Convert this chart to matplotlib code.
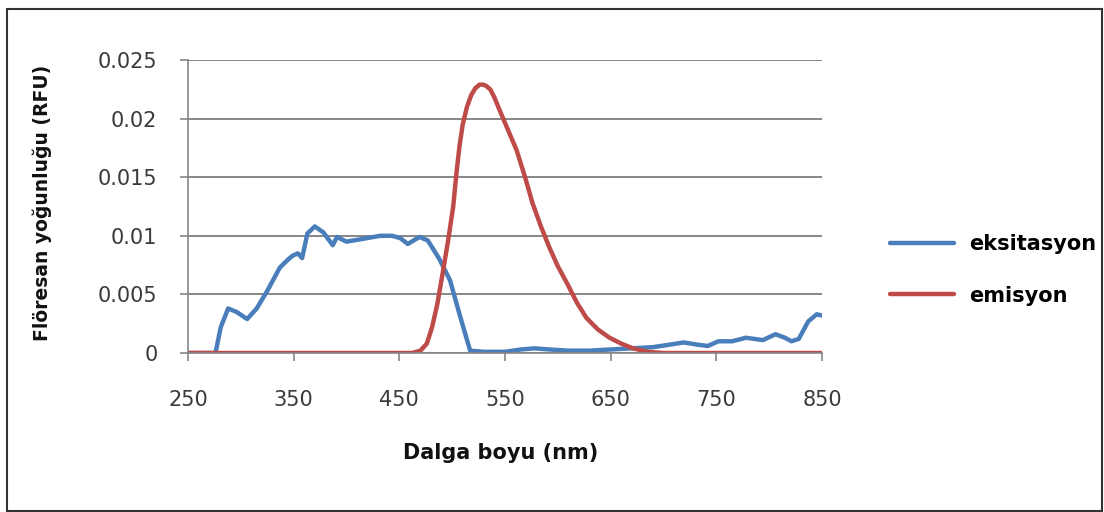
from matplotlib import pyplot
from matplotlib.patches import Rectangle

# wavelength (nm) / intensity (RFU)
exc_nm = [250, 276, 281, 288, 296, 306, 315, 325, 337, 345,
          349, 354, 358, 363, 370, 378, 387, 391, 400, 413,
          432, 443, 451, 458, 469, 477, 488, 498, 507, 517,
          530, 550, 565, 578, 592, 610, 630, 650, 670, 690,
          705, 719, 733, 742, 752, 765, 778, 794, 806, 815,
          821, 828, 837, 845, 850]
exc_val = [0, 0, 0.0022, 0.0038, 0.0035, 0.0029, 0.0038, 0.0053, 0.0073, 0.0080,
           0.0083, 0.0085, 0.0081, 0.0102, 0.0108, 0.0103, 0.0092, 0.0099, 0.0095, 0.0097,
           0.0100, 0.0100, 0.0098, 0.0093, 0.0099, 0.0096, 0.0080, 0.0062, 0.0033, 0.0002,
           0.0001, 0.0001, 0.0003, 0.0004, 0.0003, 0.0002, 0.0002, 0.0003, 0.0004, 0.0005,
           0.0007, 0.0009, 0.0007, 0.0006, 0.0010, 0.0010, 0.0013, 0.0011, 0.0016, 0.0013,
           0.0010, 0.0012, 0.0027, 0.0033, 0.0032]

em_nm = [250, 462, 470, 476, 481, 486, 491, 496, 501, 504,
         507, 510, 514, 518, 522, 526, 529, 532, 536, 540,
         545, 553, 561, 569, 576, 584, 592, 600, 609, 618,
         627, 638, 649, 660, 671, 685, 700, 850]
em_val = [0, 0, 0.0002, 0.0008, 0.0022, 0.0042, 0.0068, 0.0095, 0.0125, 0.0153,
          0.0177, 0.0195, 0.0210, 0.0220, 0.0226, 0.0229, 0.0229, 0.0228, 0.0225, 0.0218,
          0.0207, 0.0190, 0.0173, 0.0150, 0.0128, 0.0108, 0.0090, 0.0074, 0.0059, 0.0043,
          0.0030, 0.0020, 0.0013, 0.0008, 0.0004, 0.0001, 0, 0]

x_ticks = [250, 350, 450, 550, 650, 750, 850]
y_ticks = [0, 0.005, 0.01, 0.015, 0.02, 0.025]
y_labels = ["0", "0.005", "0.01", "0.015", "0.02", "0.025"]

pyplot.rcParams["font.family"] = ["DejaVu Sans"]

W, H = 1104, 512
fig = pyplot.figure(figsize=(W / 100, H / 100), dpi=100)
ax = fig.add_axes([188 / W, 1 - 353 / H, (822 - 188) / W, (353 - 60) / H])

grey = "#868686"
ax.plot(exc_nm, exc_val, color="#4A7EBB", lw=3.2, label="eksitasyon",
        solid_joinstyle="round", solid_capstyle="round")
ax.plot(em_nm, em_val, color="#BE4B48", lw=3.2, label="emisyon",
        solid_joinstyle="round", solid_capstyle="round")

ax.set_xlim(250, 850)
ax.set_ylim(0, 0.025)
ax.set_xticks(x_ticks)
ax.set_yticks(y_ticks)
ax.set_yticklabels(y_labels)
ax.yaxis.grid(True, color=grey, lw=1.4)
ax.set_axisbelow(True)
for s in ["top", "right"]:
    ax.spines[s].set_visible(False)
for s in ["left", "bottom"]:
    ax.spines[s].set_color(grey)
    ax.spines[s].set_linewidth(1.2)
ax.tick_params(axis="both", colors=grey, labelcolor="#3a3a3a",
               labelsize=15, length=6, width=1.2)
ax.tick_params(axis="x", pad=21)
ax.tick_params(axis="y", pad=16)

fig.text(501 / W, 1 - 453 / H, "Dalga boyu (nm)", ha="center", va="center",
         fontsize=15, fontweight="bold", color="#111111")
fig.text(42 / W, 1 - 203 / H, "Flöresan yoğunluğu (RFU)", ha="center",
         va="center", rotation=90, fontsize=13.5, fontweight="bold",
         color="#111111")

fig.legend(loc="center left", bbox_to_anchor=(871 / W, 1 - 270 / H),
           frameon=False, prop=dict(size=15, weight="bold"),
           handlelength=3.1, handletextpad=0.72, labelspacing=1.5)

fig.patches.append(Rectangle((7 / W, 1 / H), 1095 / W, 502 / H,
                             transform=fig.transFigure, fill=False,
                             ec="#333333", lw=1.5))

fig.savefig("out.png", dpi=100)
